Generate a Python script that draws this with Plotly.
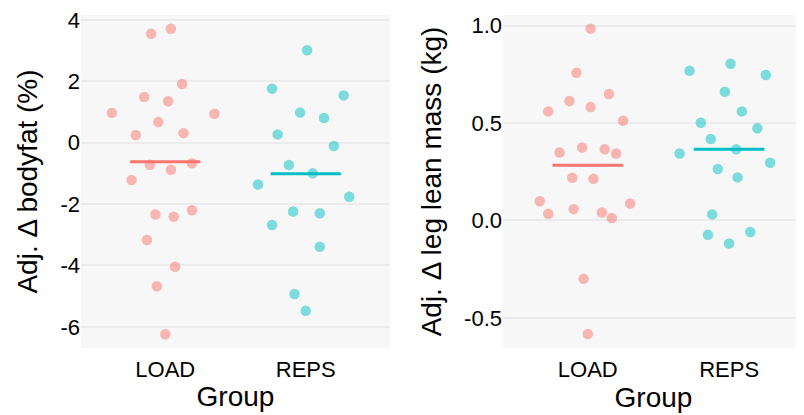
import plotly.graph_objects as go

groups = ["LOAD", "REPS"]

# Left panel: Adj. change in bodyfat (%)
bf_load_x = [0.90, 1.04, 1.12, 0.85, 1.02, 0.62, 1.35, 0.95, 0.79, 1.13, 0.89, 1.04, 1.19, 0.76,
             0.93, 1.06, 1.19, 0.87, 1.07, 0.94, 1.00]
bf_load_y = [3.55, 3.71, 1.91, 1.49, 1.35, 0.97, 0.94, 0.67, 0.25, 0.31, -0.72, -0.88, -0.67, -1.22,
             -2.34, -2.41, -2.20, -3.17, -4.04, -4.68, -6.24]
bf_reps_x = [2.01, 1.76, 2.27, 1.96, 2.13, 1.80, 2.20, 1.88, 2.05, 1.66, 2.31, 1.91, 2.10, 1.76,
             2.10, 1.92, 2.00]
bf_reps_y = [3.01, 1.76, 1.54, 0.98, 0.80, 0.27, -0.11, -0.73, -1.00, -1.36, -1.76, -2.24, -2.30, -2.68,
             -3.39, -4.93, -5.48]
bf_means = [-0.62, -1.01]

# Right panel: Adj. change in leg lean mass (kg)
lm_load_x = [1.02, 0.92, 1.15, 0.87, 0.72, 1.02, 1.25, 0.80, 0.96, 1.12, 1.20, 0.89, 1.04,
             0.66, 0.72, 0.90, 1.10, 1.17, 1.30, 0.97, 1.00]
lm_load_y = [0.985, 0.758, 0.649, 0.613, 0.560, 0.582, 0.512, 0.349, 0.375, 0.366, 0.344, 0.219, 0.214,
             0.099, 0.034, 0.058, 0.041, 0.013, 0.087, -0.300, -0.583]
lm_reps_x = [1.72, 2.01, 2.26, 1.97, 2.09, 1.80, 2.20, 1.87, 2.05, 1.65, 2.29, 1.92, 2.06,
             1.88, 1.85, 2.00, 2.15]
lm_reps_y = [0.769, 0.805, 0.747, 0.661, 0.560, 0.502, 0.473, 0.418, 0.365, 0.344, 0.296, 0.264, 0.221,
             0.031, -0.074, -0.118, -0.059]
lm_means = [0.284, 0.366]

bf_ticks = [-6, -4, -2, 0, 2, 4]
lm_ticks = [-0.5, 0.0, 0.5, 1.0]
lm_ticktext = ["-0.5", "0.0", "0.5", "1.0"]

colors = ["#F8766D", "#00BFC4"]
FONT = "Liberation Sans, Arial, Helvetica, sans-serif"

fig = go.Figure()

def add_panel(xa, ya, pts, means):
    for (xs, ys), c in zip(pts, colors):
        fig.add_trace(go.Scatter(x=xs, y=ys, mode="markers", xaxis=xa, yaxis=ya,
                                 marker=dict(size=10.5, color=c, opacity=0.5, line=dict(width=0)),
                                 showlegend=False, hoverinfo="x+y"))
    for i, (m, c) in enumerate(zip(means, colors)):
        fig.add_trace(go.Scatter(x=[i + 1 - 0.25, i + 1 + 0.25], y=[m, m], mode="lines",
                                 xaxis=xa, yaxis=ya, line=dict(color=c, width=3),
                                 showlegend=False, hoverinfo="y"))

add_panel("x", "y", [(bf_load_x, bf_load_y), (bf_reps_x, bf_reps_y)], bf_means)
add_panel("x2", "y2", [(lm_load_x, lm_load_y), (lm_reps_x, lm_reps_y)], lm_means)

# page body has an 8px margin; figure sized to fill the rest of the window
OFF = 8
W, H = 804 - OFF, 415 - OFF

def dx(px):
    return (px - OFF) / W

def dy(py):
    return 1 - (py - OFF) / H

TITLE_FONT = dict(size=28, color="black", family=FONT)
TICK_FONT = dict(size=22, color="black", family=FONT)

xcommon = dict(tickvals=[1, 2], ticktext=groups, showgrid=False, zeroline=False,
               ticks="outside", ticklen=2, tickcolor="rgba(0,0,0,0)",
               tickfont=TICK_FONT, ticklabeloverflow="allow",
               title=dict(text="Group", font=TITLE_FONT, standoff=4),
               showline=False, fixedrange=True, automargin=False)
ycommon = dict(showgrid=True, gridcolor="#EBEBEB", gridwidth=1.6, zeroline=False,
               ticks="", tickfont=TICK_FONT, showline=False, ticklabeloverflow="allow",
               automargin=False)

fig.update_layout(
    width=W, height=H,
    margin=dict(l=0, r=0, t=0, b=0),
    paper_bgcolor="white",
    plot_bgcolor="#F7F7F7",
    xaxis=dict(domain=[dx(81), dx(390)], range=[0.4, 2.6], anchor="y", **xcommon),
    xaxis2=dict(domain=[dx(503), 1.0], range=[0.4, 2.53], anchor="y2", **xcommon),
    yaxis=dict(domain=[dy(348), dy(15)], range=[-6.69, 4.16], tickvals=bf_ticks,
               ticktext=[str(t) for t in bf_ticks], anchor="x",
               title=dict(text="Adj. Δ bodyfat (%)", font=TITLE_FONT, standoff=14),
               **ycommon),
    yaxis2=dict(domain=[dy(348), dy(15)], range=[-0.655, 1.055], tickvals=lm_ticks,
                ticktext=lm_ticktext, anchor="x2",
                title=dict(text="Adj. Δ leg lean mass (kg)", font=TITLE_FONT, standoff=14),
                **ycommon),
)

fig.write_html("out.html")
